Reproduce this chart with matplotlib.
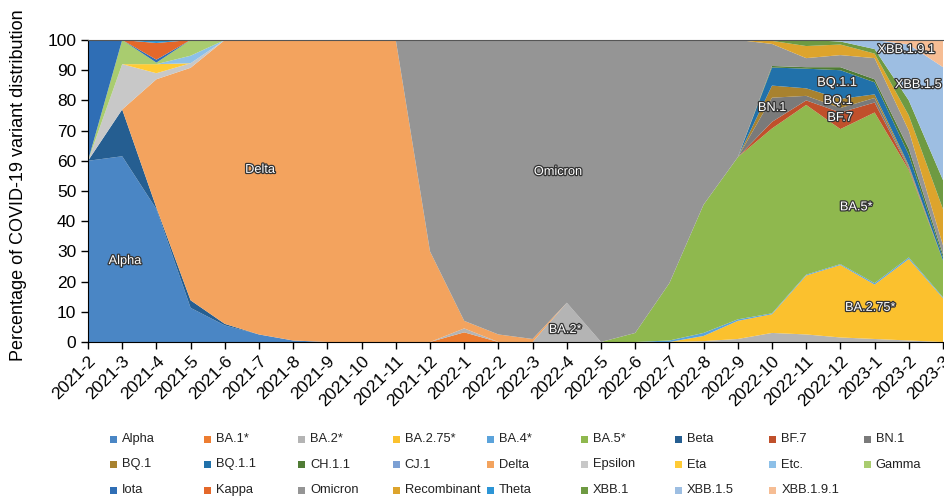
import matplotlib
matplotlib.use("Agg")
import matplotlib.pyplot as plt
import matplotlib.patheffects as pe
from matplotlib.patches import Rectangle

plt.rcParams['font.family'] = ['Liberation Sans', 'DejaVu Sans']

months = ['2021-2', '2021-3', '2021-4', '2021-5', '2021-6', '2021-7', '2021-8', '2021-9',
          '2021-10', '2021-11', '2021-12', '2022-1', '2022-2', '2022-3', '2022-4', '2022-5',
          '2022-6', '2022-7', '2022-8', '2022-9', '2022-10', '2022-11', '2022-12', '2023-1',
          '2023-2', '2023-3']

# percentages per month
alpha = [60, 61.5, 44, 11.3, 5.5, 2.5, 0.5] + [0] * 19
ba1 = [0] * 11 + [3.2] + [0] * 14
ba2 = [0] * 11 + [1.3, 0, 0, 13, 0, 0, 0, 0.3, 1, 3, 2.5, 1.5, 1, 0.5, 0]
ba275 = [0] * 18 + [1.7, 6, 6.2, 19.5, 24, 18, 27, 14.5]
ba4 = [0] * 17 + [0.5, 1, 0.5, 0.3, 0.3, 0.3, 0.5, 0.5, 0.3]
ba5 = [0] * 16 + [3, 19, 42.5, 53.7, 61.2, 56.2, 44.7, 56.5, 29, 12.2]
beta = [0, 15.5, 0.5, 2.5, 0.5] + [0] * 21
bf7 = [0] * 20 + [2.2, 1.5, 5.5, 3.3, 0.5, 0]
bn1 = [0] * 20 + [8, 1.5, 1.5, 1.5, 0.5, 0]
bq1 = [0] * 20 + [4, 2.5, 3, 1.2, 0.5, 0]
bq11 = [0] * 20 + [6, 6.5, 9.5, 4, 3.5, 1]
ch11 = [0] * 20 + [0.5, 0.5, 1, 1, 2, 1]
cj1 = [0] * 26
delta = [0, 0, 42.5, 77, 94, 97.5, 99.5, 100, 100, 100, 30, 2.5, 2.5, 1] + [0] * 12
epsilon = [0, 15, 2, 1.5] + [0] * 22
eta = [0, 0, 3] + [0] * 23
etc = [0, 0, 0, 2.5] + [0] * 22
gamma = [0, 8, 0.5, 5.2] + [0] * 22
iota = [40, 0, 1] + [0] * 23
kappa = [0, 0, 5.5] + [0] * 23
omicron = [0] * 10 + [70, 93, 97.5, 99, 87, 100, 97, 80.5, 54.5, 38.8, 7.3, 3, 4, 7, 6, 3]
recombinant = [0] * 20 + [1, 4, 3.5, 1.5, 5, 12]
theta = [0, 0, 1] + [0] * 23
xbb1 = [0] * 20 + [0.3, 2, 1, 1.5, 5, 9.6]
xbb15 = [0] * 20 + [0, 0, 0.5, 3, 18.5, 37.4]
xbb191 = [0] * 24 + [1.5, 9]

names = ['Alpha', 'BA.1*', 'BA.2*', 'BA.2.75*', 'BA.4*', 'BA.5*', 'Beta', 'BF.7', 'BN.1',
         'BQ.1', 'BQ.1.1', 'CH.1.1', 'CJ.1', 'Delta', 'Epsilon', 'Eta', 'Etc.', 'Gamma',
         'Iota', 'Kappa', 'Omicron', 'Recombinant', 'Theta', 'XBB.1', 'XBB.1.5', 'XBB.1.9.1']
series = [alpha, ba1, ba2, ba275, ba4, ba5, beta, bf7, bn1, bq1, bq11, ch11, cj1, delta,
          epsilon, eta, etc, gamma, iota, kappa, omicron, recombinant, theta, xbb1, xbb15, xbb191]
colors = ['#4A86C5', '#ED7D31', '#B4B4B4', '#FBC12E', '#5BA3DB', '#8FB84E', '#255E91',
          '#C0502B', '#7A7A7A', '#A8822F', '#2171AA', '#507C35', '#7CA0D4', '#F3A35E',
          '#C8C8C8', '#FFCB35', '#8DC0E8', '#A9CC6F', '#2F6EB5', '#E4682A', '#959595',
          '#DDA42C', '#2C95D6', '#6E9A42', '#9DBEE2', '#F6BD94']

W, H = 944, 501
fig = plt.figure(figsize=(W / 100, H / 100), dpi=100)
ax = fig.add_axes([88 / W, 1 - 342 / H, (943 - 88) / W, 302 / H])

x = list(range(len(months)))
ax.stackplot(x, *series, colors=colors, linewidth=0)

ax.set_xlim(0, len(months) - 1)
ax.set_ylim(0, 100)
ax.set_yticks(range(0, 101, 10))
ax.set_xticks(x)
ax.set_xticklabels(months, rotation=45, ha='right', rotation_mode='anchor')
ax.tick_params(axis='both', labelsize=12.5, direction='out', length=5, width=1)
ax.tick_params(axis='x', pad=3)
ax.set_ylabel('Percentage of COVID-19 variant distribution', fontsize=13)
ax.yaxis.set_label_coords(-(88 - 27) / (943 - 88), 0.52)
ax.spines['right'].set_visible(False)
ax.spines['top'].set_color('#555555')

# labels on the areas
labels = [('Alpha', 1.08, 26.8), ('Delta', 5.03, 57), ('Omicron', 13.74, 56.3),
          ('BA.2*', 13.95, 4), ('BA.5*', 22.46, 44.6), ('BA.2.75*', 22.87, 11.3),
          ('BN.1', 20.0, 77.5), ('BQ.1.1', 21.9, 85.8), ('BQ.1', 21.93, 79.8),
          ('BF.7', 21.99, 74.2), ('XBB.1.9.1', 23.92, 96.7), ('XBB.1.5', 24.27, 85.1)]
for t, lx, ly in labels:
    ax.text(lx, ly, t, fontsize=9.2, color='white', ha='center', va='center',
            path_effects=[pe.withStroke(linewidth=1.8, foreground='#333333')])

# legend laid out row by row on a fixed grid, as in the original
ncol = 9
for k, (name, c) in enumerate(zip(names, colors)):
    r, col = divmod(k, ncol)
    left = 110 + 94.2 * col
    yc = 439 + 25.5 * r
    fig.add_artist(Rectangle((left / W, 1 - (yc + 3.5) / H), 7 / W, 7 / H,
                             transform=fig.transFigure, facecolor=c, edgecolor='none'))
    fig.text((left + 12) / W, 1 - yc / H, name, fontsize=9.3, va='center', ha='left',
             color='#222222')

fig.savefig('out.png', dpi=100)
